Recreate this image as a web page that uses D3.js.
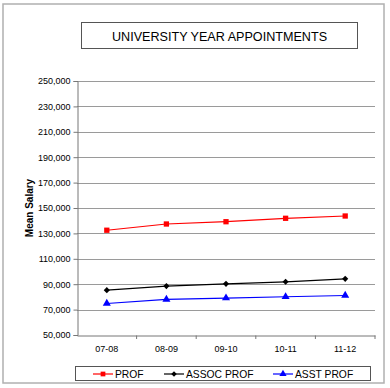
<!DOCTYPE html>
<html>
<head>
<meta charset="utf-8">
<script src="https://cdn.jsdelivr.net/npm/d3@7"></script>
<style>
  body { margin: 0; background: #fff; }
  svg { display: block; font-family: "Liberation Sans", Arial, sans-serif; }
</style>
</head>
<body>
<div id="chart"></div>
<script>
// Mean salary by rank, university year appointments

const years = ["07-08", "08-09", "09-10", "10-11", "11-12"]
const prof = [132500, 137400, 139200, 141900, 143700]
const assocProf = [85300, 88500, 90300, 91900, 94200]
const asstProf = [74800, 78000, 79100, 80100, 81100]
const yTicks = [50000, 70000, 90000, 110000, 130000, 150000, 170000, 190000, 210000, 230000, 250000]

const series = [
  { name: "PROF", values: prof, color: "#ff0000", symbol: d3.symbolSquare, size: 28 },
  { name: "ASSOC PROF", values: assocProf, color: "#000000", symbol: d3.symbolDiamond2, size: 24 },
  { name: "ASST PROF", values: asstProf, color: "#0000ff", symbol: d3.symbolTriangle, size: 28 }
]

const WIDTH = 390
const HEIGHT = 388
const PLOT = { LEFT: 77, RIGHT: 375, TOP: 81, BOTTOM: 335 }

const svg = d3.select("#chart")
  .append("svg")
  .attr("width", WIDTH)
  .attr("height", HEIGHT)

// outer frame
svg.append("rect")
  .attr("x", 3).attr("y", 4)
  .attr("width", 381).attr("height", 379)
  .attr("fill", "none")
  .attr("stroke", "#b0b0b0")
  .attr("stroke-width", 1.5)

// title box
svg.append("rect")
  .attr("x", 81.5).attr("y", 22.5)
  .attr("width", 276).attr("height", 26)
  .attr("fill", "#fff")
  .attr("stroke", "#555")
  .attr("stroke-width", 1)
svg.append("text")
  .attr("x", 219.5).attr("y", 40.5)
  .attr("text-anchor", "middle")
  .attr("font-size", 12.6)
  .text("UNIVERSITY YEAR APPOINTMENTS")

const x = d3.scaleBand()
  .domain(years)
  .range([PLOT.LEFT, PLOT.RIGHT])

const y = d3.scaleLinear()
  .domain([50000, 250000])
  .range([PLOT.BOTTOM, PLOT.TOP])

// gridlines
svg.append("g")
  .selectAll("line")
  .data(yTicks.slice(1))
  .join("line")
    .attr("x1", PLOT.LEFT).attr("x2", PLOT.RIGHT)
    .attr("y1", d => Math.round(y(d)) + 0.5)
    .attr("y2", d => Math.round(y(d)) + 0.5)
    .attr("stroke", "#9a9a9a")
    .attr("stroke-width", 1.2)

// y axis
const yAxis = svg.append("g")
  .attr("transform", `translate(${PLOT.LEFT + 0.5},0)`)
  .call(d3.axisLeft(y).tickValues(yTicks).tickFormat(d3.format(",")).tickSize(4).tickPadding(3))
yAxis.select(".domain").attr("stroke", "#777")
yAxis.selectAll(".tick line").attr("stroke", "#777")
yAxis.selectAll("text").attr("font-size", 9).attr("fill", "#000")
  .attr("font-family", "'Liberation Sans', Arial, sans-serif")

// x axis, ticks between the categories
const xAxis = svg.append("g")
  .attr("transform", `translate(0,${Math.round(PLOT.BOTTOM) + 0.5})`)
  .call(d3.axisBottom(x).tickSize(0).tickPadding(10))
xAxis.select(".domain").attr("stroke", "#777")
xAxis.selectAll("text").attr("font-size", 9).attr("fill", "#000")
  .attr("font-family", "'Liberation Sans', Arial, sans-serif")
svg.append("g")
  .selectAll("line")
  .data(years.slice(1).concat(["end"]))
  .join("line")
    .attr("x1", (d, i) => PLOT.LEFT + x.bandwidth() * (i + 1))
    .attr("x2", (d, i) => PLOT.LEFT + x.bandwidth() * (i + 1))
    .attr("y1", Math.round(PLOT.BOTTOM) + 0.5)
    .attr("y2", Math.round(PLOT.BOTTOM) + 4)
    .attr("stroke", "#777")

// y axis title
svg.append("text")
  .attr("transform", "translate(33,208) rotate(-90)")
  .attr("text-anchor", "middle")
  .attr("font-size", 10)
  .attr("font-weight", "bold")
  .text("Mean Salary")

// lines and markers
const cx = d => x(d) + x.bandwidth() / 2
const line = d3.line()
  .x((d, i) => cx(years[i]))
  .y(d => y(d))

series.forEach(s => {
  svg.append("path")
    .datum(s.values)
    .attr("d", line)
    .attr("fill", "none")
    .attr("stroke", s.color)
    .attr("stroke-width", 1.2)
  svg.append("g")
    .selectAll("path")
    .data(s.values)
    .join("path")
      .attr("transform", (d, i) => `translate(${cx(years[i])},${y(d)})`)
      .attr("d", d3.symbol(s.symbol, s.size))
      .attr("fill", s.color)
})

// legend
svg.append("rect")
  .attr("x", 75.5).attr("y", 366.5)
  .attr("width", 295).attr("height", 14)
  .attr("fill", "#fff")
  .attr("stroke", "#555")
const legendX = [93, 164, 273]
const legend = svg.append("g")
  .selectAll("g")
  .data(series)
  .join("g")
    .attr("transform", (d, i) => `translate(${legendX[i]},374)`)
legend.append("line")
  .attr("x1", 0).attr("x2", 20)
  .attr("stroke", d => d.color)
  .attr("stroke-width", 1.2)
legend.append("path")
  .attr("transform", "translate(10,0)")
  .attr("d", d => d3.symbol(d.symbol, d.size * 0.8)())
  .attr("fill", d => d.color)
legend.append("text")
  .attr("x", 22).attr("y", 4)
  .attr("font-size", 10.3)
  .text(d => d.name)
</script>
</body>
</html>
